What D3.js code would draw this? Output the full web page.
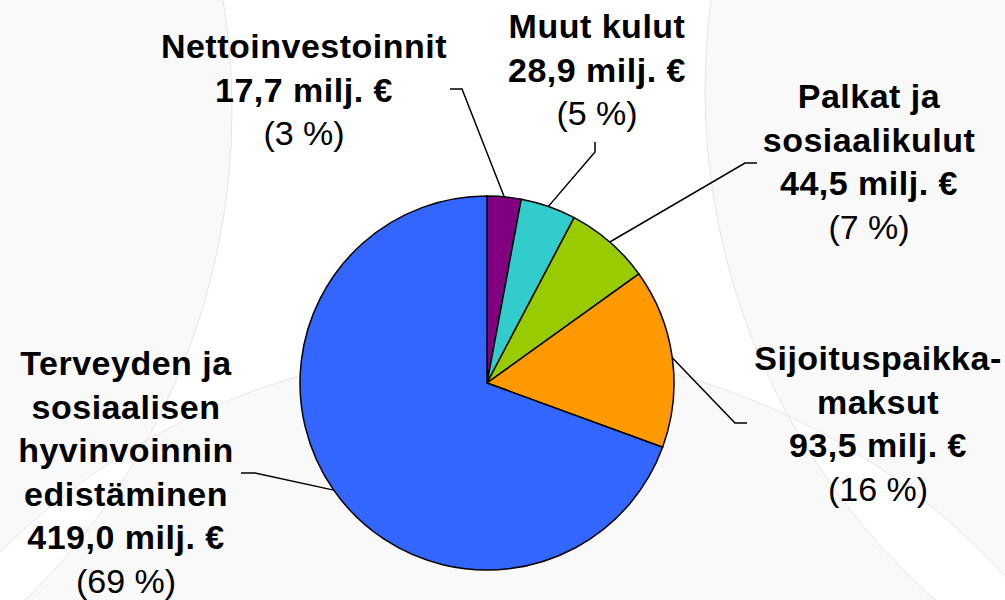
<!DOCTYPE html>
<html><head><meta charset="utf-8">
<script src="https://cdn.jsdelivr.net/npm/d3@7"></script>
<style>body{margin:0;background:#fff} svg{display:block}</style>
</head><body><svg id="c" width="1005" height="600"></svg>
<script>
// ---- data ----
const categories = ["Nettoinvestoinnit", "Muut kulut", "Palkat ja sosiaalikulut", "Sijoituspaikkamaksut", "Terveyden ja sosiaalisen hyvinvoinnin edistäminen"];
const labelLines = [["Nettoinvestoinnit"], ["Muut kulut"], ["Palkat ja", "sosiaalikulut"], ["Sijoituspaikka-", "maksut"], ["Terveyden ja", "sosiaalisen", "hyvinvoinnin", "edistäminen"]];
const values = [17.7, 28.9, 44.5, 93.5, 419.0];
const percents = [3, 5, 7, 16, 69];
const unit = "milj. €";

// ---- styles / layout ----
const colors = ["#800080", "#33CCCC", "#99CC00", "#FF9900", "#3366FF"];
const W = 1005, H = 600;
const cx = 487, cy = 383, R = 187;
const lineH = 43.5;
const labelLayout = [
  {x: 304, y: 58,  elbow: [462, 89],  end: [450, 89]},
  {x: 597, y: 38,  elbow: [595, 152], end: [595, 142]},
  {x: 869, y: 108, elbow: [745, 163], end: [757, 163]},
  {x: 878, y: 370, elbow: [735, 423], end: [747, 423]},
  {x: 126, y: 375, elbow: [255, 473], end: [241, 473]}
];

const svg = d3.select("#c");

// background decorative shapes (even-odd)
const bgCircles = [[-452, 110, 684], [1385, 90, 680], [491, 1044, 695]];
const circPath = ([x, y, r]) => `M${x - r},${y}a${r},${r} 0 1,0 ${2 * r},0a${r},${r} 0 1,0 ${-2 * r},0Z`;
svg.append("path")
  .attr("d", bgCircles.map(circPath).join(""))
  .attr("fill", "#f9f9f9")
  .attr("fill-rule", "evenodd")
  .attr("stroke", "#dedede")
  .attr("stroke-width", 0.8);

const pie = d3.pie().sort(null).value(d => d).startAngle(0).endAngle(2 * Math.PI);
const arcs = pie(values);
const arc = d3.arc().innerRadius(0).outerRadius(R);

const g = svg.append("g").attr("transform", `translate(${cx},${cy})`);
g.selectAll("path.slice").data(arcs).join("path")
  .attr("class", "slice")
  .attr("d", arc)
  .attr("fill", (d, i) => colors[i])
  .attr("stroke", "#000")
  .attr("stroke-width", 1.5)
  .attr("stroke-linejoin", "round");

// leader lines
arcs.forEach((a, i) => {
  const mid = (a.startAngle + a.endAngle) / 2;
  const p0 = [cx + R * Math.sin(mid), cy - R * Math.cos(mid)];
  const L = labelLayout[i];
  svg.append("polyline")
    .attr("points", [p0, L.elbow, L.end].map(p => p.join(",")).join(" "))
    .attr("fill", "none")
    .attr("stroke", "#000")
    .attr("stroke-width", 1.5);
});

// labels
const fmtNum = v => d3.format(".1f")(v).replace(".", ",");
arcs.forEach((a, i) => {
  const L = labelLayout[i];
  const t = svg.append("text")
    .attr("text-anchor", "middle")
    .attr("font-family", "'Liberation Sans', Arial, sans-serif")
    .attr("font-size", 34)
    .attr("fill", "#000");
  const lines = labelLines[i].map(s => ({s, bold: true}))
    .concat([{s: `${fmtNum(values[i])} ${unit}`, bold: true},
             {s: `(${percents[i]} %)`, bold: false}]);
  lines.forEach((ln, k) => {
    t.append("tspan")
      .attr("x", L.x)
      .attr("y", L.y + k * lineH)
      .attr("font-weight", ln.bold ? "bold" : "normal")
      .attr("letter-spacing", ln.bold ? 0.5 : 0)
      .text(ln.s);
  });
});
</script>
</body></html>
